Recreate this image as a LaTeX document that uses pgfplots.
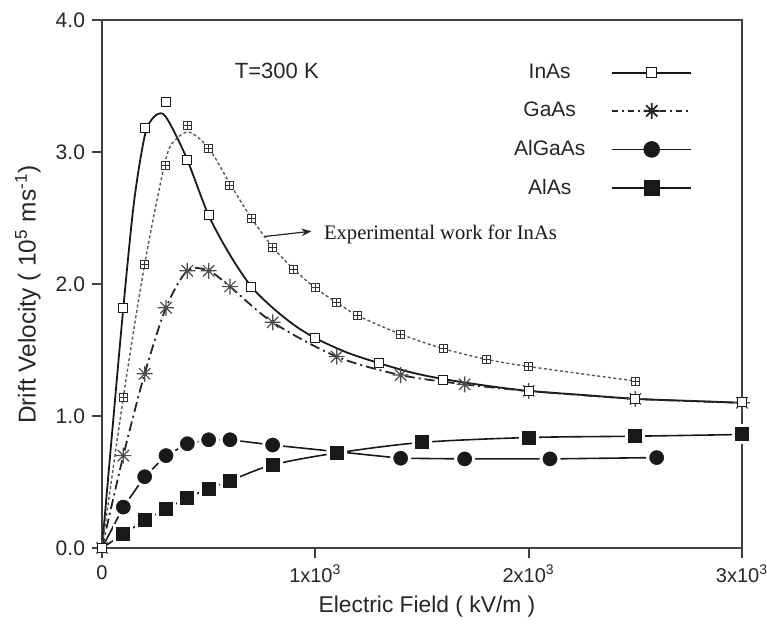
\documentclass[border=0pt]{standalone}
\usepackage{fontspec}
\setmainfont{Liberation Sans}
\newfontfamily\seriffont{Liberation Serif}
\usepackage{pgfplots}
\pgfplotsset{compat=1.18}
\usetikzlibrary{arrows.meta,plotmarks}

\pgfdeclareplotmark{boxplus}{%
  \pgfpathrectangle{\pgfpoint{-\pgfplotmarksize}{-\pgfplotmarksize}}{\pgfpoint{2\pgfplotmarksize}{2\pgfplotmarksize}}%
  \pgfusepathqfillstroke
  \pgfpathmoveto{\pgfpoint{-\pgfplotmarksize}{0pt}}\pgfpathlineto{\pgfpoint{\pgfplotmarksize}{0pt}}%
  \pgfpathmoveto{\pgfpoint{0pt}{-\pgfplotmarksize}}\pgfpathlineto{\pgfpoint{0pt}{\pgfplotmarksize}}%
  \pgfusepathqstroke}
\pgfdeclareplotmark{star8}{%
  \pgfpathmoveto{\pgfpoint{-\pgfplotmarksize}{0pt}}\pgfpathlineto{\pgfpoint{\pgfplotmarksize}{0pt}}%
  \pgfpathmoveto{\pgfpoint{0pt}{-\pgfplotmarksize}}\pgfpathlineto{\pgfpoint{0pt}{\pgfplotmarksize}}%
  \pgfpathmoveto{\pgfpointpolar{45}{\pgfplotmarksize}}\pgfpathlineto{\pgfpointpolar{225}{\pgfplotmarksize}}%
  \pgfpathmoveto{\pgfpointpolar{135}{\pgfplotmarksize}}\pgfpathlineto{\pgfpointpolar{315}{\pgfplotmarksize}}%
  \pgfusepathqstroke}

\begin{document}
\begin{tikzpicture}
\begin{axis}[
  scale only axis, width=320pt, height=264pt,
  xmin=0, xmax=3000, ymin=0, ymax=4,
  clip=false,
  axis line style={draw=black!75, line width=0.9pt},
  xtick={0,1000,2000,3000},
  xticklabels={0, 1x10\textsuperscript{3}, 2x10\textsuperscript{3}, 3x10\textsuperscript{3}},
  ytick={0,1,2,3,4}, yticklabels={0.0,1.0,2.0,3.0,4.0},
  tick align=outside, xtick pos=bottom, ytick pos=left,
  major tick length=5pt,
  tick style={black!75, line width=0.9pt},
  scaled x ticks=false,
  yticklabel style={font=\fontsize{10.5}{12}\selectfont, text=black!85},
  xticklabel style={font=\fontsize{10}{12}\selectfont, text=black!85},
  xlabel={Electric Field ( kV/m )},
  ylabel={Drift Velocity ( 10\textsuperscript{5} ms\textsuperscript{-1})},
  every axis x label/.style={at={(axis description cs:0.5,0)}, yshift=-29.5pt, xshift=2.5pt, anchor=center,
     font=\fontsize{11.4}{13}\selectfont, text=black!85},
  every axis y label/.style={at={(axis description cs:0,0.48)}, xshift=-37pt, rotate=90, anchor=center,
     font=\fontsize{12.2}{14}\selectfont, text=black!85},
  legend style={draw=none, fill=none, at={(axis cs:2768,3.70)}, anchor=north east, inner sep=0pt,
     font=\fontsize{10.5}{12}\selectfont, text=black!85, row sep=6.3pt,
     /tikz/every odd column/.append style={column sep=11pt}},
  legend plot pos=right,
  legend cell align=center,
  legend image code/.code={\draw[mark repeat=2,mark phase=2,#1] plot coordinates {(0pt,0pt) (19.75pt,0pt) (39.5pt,0pt)};},
]
% ---- InAs (simulation) ----
\addplot[forget plot, smooth, black!90, line width=0.9pt] coordinates {
 (0,0) (50,0.92) (100,1.82) (150,2.62) (200,3.12) (240,3.26) (285,3.29) (330,3.18) (400,2.94)
 (500,2.52) (600,2.22) (700,1.98) (800,1.82) (900,1.69) (1000,1.59) (1150,1.48) (1300,1.40)
 (1450,1.33) (1600,1.28) (1800,1.23) (2000,1.19) (2250,1.16) (2500,1.13) (2750,1.115) (3000,1.10)};
% ---- Experimental InAs ----
\addplot[forget plot, smooth, black!65, line width=0.7pt, dash pattern=on 1.5pt off 1.2pt] coordinates {
 (0,0) (100,1.14) (200,2.15) (300,2.95) (350,3.10) (410,3.15) (500,3.03) (600,2.76) (700,2.50)
 (800,2.28) (900,2.11) (1000,1.97) (1100,1.86) (1200,1.76) (1400,1.62) (1600,1.51) (1800,1.43)
 (2000,1.375) (2500,1.265)};
\addplot[forget plot, only marks, mark=boxplus, mark size=2pt, mark options={fill=white, draw=black!80, line width=0.5pt, solid}] coordinates {
 (0,0) (100,1.14) (200,2.15) (300,2.90) (400,3.20) (500,3.03) (600,2.75) (700,2.50) (800,2.28)
 (900,2.11) (1000,1.97) (1100,1.86) (1200,1.76) (1400,1.62) (1600,1.51) (1800,1.43) (2000,1.375) (2500,1.265)};
% ---- GaAs ----
\addplot[forget plot, smooth, black!85, line width=0.9pt, dash pattern=on 5pt off 2pt on 1pt off 2pt] coordinates {
 (0,0) (100,0.70) (200,1.32) (300,1.82) (400,2.10) (500,2.10) (600,1.98) (800,1.71) (1100,1.45)
 (1400,1.31) (1700,1.24) (2000,1.19) (2500,1.13) (3000,1.10)};
\addplot[forget plot, only marks, mark=star8, mark size=4pt, mark options={draw=black!70, line width=0.6pt, solid}] coordinates {
 (0,0) (100,0.70) (200,1.32) (300,1.82) (400,2.10) (500,2.10) (600,1.98) (800,1.71) (1100,1.45)
 (1400,1.31) (1700,1.24) (2000,1.19) (2500,1.13) (3000,1.10)};
\addplot[forget plot, only marks, mark=square*, mark size=2.25pt, mark options={fill=white, draw=black!90, line width=0.6pt}] coordinates {
 (0,0) (100,1.82) (200,3.18) (300,3.38) (400,2.94) (500,2.52) (700,1.98) (1000,1.59) (1300,1.40)
 (1600,1.275) (2000,1.19) (2500,1.13) (3000,1.105)};
% ---- AlGaAs ----
\addplot[forget plot, black!90, line width=0.8pt] coordinates {
 (0,0) (100,0.31) (200,0.54) (300,0.70) (400,0.79) (500,0.82) (600,0.82) (800,0.78) (1100,0.73)
 (1400,0.68) (1700,0.675) (2100,0.675) (2600,0.685)};
\addplot[forget plot, only marks, mark=*, mark size=4.5pt, mark options={fill=black!90, draw=white, line width=1.5pt}] coordinates {
 (100,0.31) (200,0.54) (300,0.70) (400,0.79) (500,0.82) (600,0.82) (800,0.78) (1100,0.73)
 (1400,0.68) (1700,0.675) (2100,0.675) (2600,0.685)};
% ---- AlAs ----
\addplot[forget plot, smooth, black!90, line width=0.8pt] coordinates {
 (0,0) (100,0.105) (200,0.21) (300,0.295) (400,0.38) (500,0.45) (600,0.51) (800,0.63) (1100,0.72)
 (1500,0.80) (2000,0.837) (2500,0.847) (3000,0.86)};
\addplot[forget plot, only marks, mark=square*, mark size=4.25pt, mark options={fill=black!90, draw=white, line width=1.5pt}] coordinates {
 (100,0.105) (200,0.21) (300,0.295) (400,0.38) (500,0.45) (600,0.51) (800,0.63) (1100,0.72)
 (1500,0.80) (2000,0.837) (2500,0.847) (3000,0.86)};
% ---- legend ----
\addlegendimage{black!90, line width=0.9pt, mark=square*, mark size=2.5pt, mark options={fill=white, line width=0.6pt}}
\addlegendimage{black!85, line width=0.9pt, dash pattern=on 3pt off 2pt on 1pt off 2pt, mark=star8, mark size=4pt, mark options={solid}}
\addlegendimage{black!90, line width=0.8pt, mark=*, mark size=3.75pt}
\addlegendimage{black!90, line width=0.8pt, mark=square*, mark size=3.5pt}
\legend{InAs, GaAs, AlGaAs, AlAs}
% ---- annotations ----
\node[anchor=base west, font=\fontsize{11}{13}\selectfont, text=black!85] at (axis cs:590,3.56) {T=300 K};
\draw[-{Stealth[length=5pt]}, black!85, line width=0.6pt] (axis cs:763,2.36) -- (axis cs:982,2.40);
\node[anchor=base west, font=\seriffont\fontsize{10.3}{12}\selectfont, text=black!90] at (axis cs:1008,2.34) {Experimental work for InAs};
\end{axis}
\pgfresetboundingbox
\path (-51pt,-37.5pt) rectangle (332.5pt,274pt);
\end{tikzpicture}
\end{document}
